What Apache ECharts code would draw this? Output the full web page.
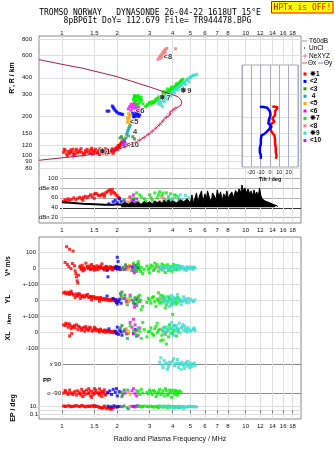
<!DOCTYPE html>
<html>
<head>
<meta charset="utf-8">
<script src="https://cdn.jsdelivr.net/npm/echarts@6/dist/echarts.min.js"></script>
<style>
html,body{margin:0;padding:0;background:#fff;}
#chart{width:335px;height:451px;}
</style>
</head>
<body>
<div id="chart"></div>
<script>
// ---------- axis ticks ----------
const FREQ_TICKS = [1, 1.5, 2, 3, 4, 5, 6, 7, 8, 10, 12, 14, 16, 18];          // MHz
const HEIGHT_TICKS = [80, 90, 100, 120, 150, 200, 300, 400, 600, 800];          // km
const DB_TICKS = [20, 40, 60, 80, 100];
const DB_TICK_LABELS = { 20: 'dBn 20', 40: '40', 60: '60', 80: 'dBe 80', 100: '100' };
const VSTAR_TICK_LABELS = { 0: '0', 100: '100' };
const YL_TICK_LABELS = { 0: '0', 100: '+-100' };
const XL_TICK_LABELS = { '-100': '-100', 0: '0', 100: '+-100' };
const TILT_HEIGHT_TICKS = [100, 120, 150, 200, 300, 400];

// ---------- echo classes ----------
const CLASS_NAMES = ['\u27351', '<2', '<3', ' 4', '<5', '<6', '\u27357', '<8', '\u27359', '<10'];
const CLASS_COLORS = ['#ff0000', '#0000ff', '#2f8f2f', '#12a8a8', '#ffa500', '#ff00ff', '#00ee00', '#f08080', '#3ddcd0', '#9b30e0'];

// virtual height of echoes [MHz, km], one list per class
const heightC1 = [[1.02,106],[1.04,110],[1.06,103],[1.08,108],[1.1,104],[1.12,111],[1.14,106],[1.16,102],[1.19,108],[1.22,105],[1.25,110],[1.28,106],[1.31,103],[1.34,109],[1.37,112],[1.4,106],[1.43,104],[1.46,110],[1.49,107],[1.52,112],[1.55,105],[1.58,109],[1.61,113],[1.64,107],[1.67,104],[1.7,110],[1.73,106],[1.76,111],[1.79,108],[1.82,105],[1.85,110],[1.88,113],[1.91,108],[1.94,112],[1.97,115],[2.0,111],[2.03,117],[2.06,120],[2.09,124],[2.12,128],[1.2,112],[1.45,114],[1.6,102],[1.75,103],
  [1.03,112],[1.07,100],[1.11,107],[1.15,112],[1.18,103],[1.24,107],[1.27,113],[1.33,104],[1.36,107],[1.42,110],[1.48,103],[1.51,108],[1.57,105],[1.63,110],[1.69,107],[1.72,113],[1.78,104],[1.84,107],[1.9,104],[1.93,109],[1.99,114],[2.02,120],[2.05,116],[2.08,121],[2.11,125]];
const heightC2 = [[1.76,221],[1.8,221],[1.88,242],[1.9,236],[1.92,230],[1.95,224],[1.98,218],[2.02,214],[2.06,211],[2.1,210],[2.14,208],[2.42,212],[2.45,200],[2.48,206],[2.52,214],[2.55,203],[2.58,209],[2.62,200],[2.65,207],[2.5,198],[2.6,216]];
const heightC3 = [[2.07,137],[2.11,140],[2.15,134],[2.19,131],[2.23,137],[2.43,140],[2.48,135]];
const heightC4 = [[2.25,146],[2.27,152],[2.29,157],[2.31,162],[2.33,167],[2.35,172],[2.3,142]];
const heightC5 = [[2.27,181],[2.29,188],[2.31,195],[2.33,202],[2.36,208],[2.3,212],[2.27,196],[2.38,186],[2.34,178]];
const heightC6 = [[2.3,230],[2.34,240],[2.38,250],[2.42,236],[2.46,246],[2.5,232],[2.54,240],[2.58,228],[2.62,236],[2.66,222],[2.38,224],[2.47,256],[2.55,250]];
const heightC7 = [[2.45,272],[2.5,286],[2.55,280],[2.6,292],[2.65,276],[2.7,284],[2.5,262],[2.58,266],[2.66,258],[2.72,268],[2.62,250],[2.55,246],[2.76,252],[2.48,292],[2.85,240],[2.92,248],[2.98,255],[3.05,250],[3.1,262],[3.15,258],[3.22,270],[3.3,266],[3.35,280],[3.42,276],[3.5,290],[3.58,296],[3.65,305],[3.72,300],[3.8,314],[3.88,322],[3.95,316],[4.02,330],[4.1,338],[4.18,348],[4.26,356],[4.34,366],[4.42,374],[4.5,384],[3.6,285],[3.7,292],[3.85,300],[4.0,312],[4.15,326],[4.3,340],[3.75,328],[3.95,340],[4.2,360],[3.55,312],
  [2.47,280],[2.53,270],[2.57,288],[2.63,282],[2.68,270],[2.9,244],[3.0,258],[3.12,254],[3.2,262],[3.28,276],[3.38,285],[3.46,282],[3.54,300],[3.62,294],[3.68,312],[3.78,306],[3.85,318],[3.92,330],[4.05,322],[4.12,345],[4.22,352],[4.38,360],[4.45,380],[4.55,390]];
const heightC8 = [[3.33,555],[3.38,572],[3.42,590],[3.47,605],[3.5,585],[3.53,622],[3.57,640],[3.62,655],[3.67,668],[3.72,676],[3.45,565],[3.58,610],[3.65,630],[4.15,672]];
const heightC9 = [[3.35,250],[3.42,258],[3.5,266],[3.58,274],[3.66,282],[3.75,290],[3.85,298],[3.95,306],[4.05,316],[4.15,325],[4.25,334],[4.35,343],[4.45,352],[4.55,362],[4.65,372],[4.75,382],[4.85,392],[4.95,400],[5.05,408],[5.15,414],[5.3,420],[5.42,426],[3.45,248],[3.6,262],[3.75,270],[3.9,288],[4.1,306],[4.3,322],[4.5,338],[4.7,356],[4.9,372],[3.52,240],
  [3.4,262],[3.55,268],[3.7,286],[3.8,294],[4.0,312],[4.2,330],[4.4,348],[4.6,366],[4.8,388],[5.0,402],[5.2,418],[3.65,275],[3.85,292]];
const heightC10 = [[2.14,122],[2.17,127],[2.2,119],[2.22,124],[2.25,121],[2.18,130]];

// class labels drawn beside the echo groups [text, MHz, km]
const classMarks = [['\u27351',1.71,106],['<5',2.47,182],['4',2.5,152],['<6',2.66,221],['\u27357',3.64,281],['<8',3.77,583],['\u27359',4.72,316],['<10',2.42,121]];

// model trace through the layer [MHz, km]
const modelTrace = [[0.75,553],[1.0,509],[1.3,474],[2.0,408],[3.0,340],[3.88,300],[4.28,286],[4.45,269],[4.49,255],[4.4,242],[4.13,232],[3.88,218],[3.88,206],[3.64,195],[3.42,175],[3.02,149],[2.66,132],[2.35,121],[1.95,110],[1.61,104.5],[1.3,100],[1.065,97],[0.75,92]];
// Ne profile points (NeXYZ) [MHz, km]
const neProfile = [[1.15,98],[1.3,100],[1.45,102],[1.6,104],[1.75,107],[1.9,109],[2.05,113],[2.2,117],[2.35,121],[2.5,126],[2.65,132],[2.8,138],[2.95,146],[3.1,154],[3.25,163],[3.4,174],[3.55,185],[3.7,198],[3.85,210],[4.0,222],[4.13,232]];

// echo amplitude [MHz, dB]
const dbC1 = [[1.02,53],[1.04,56],[1.06,54],[1.08,58],[1.1,55],[1.13,57],[1.16,60],[1.19,56],[1.22,59],[1.25,61],[1.28,58],[1.31,61],[1.34,63],[1.37,60],[1.4,63],[1.43,66],[1.46,62],[1.49,67],[1.52,69],[1.55,68],[1.58,65],[1.61,64],[1.64,66],[1.67,68],[1.7,66],[1.73,70],[1.76,72],[1.79,74],[1.82,76],[1.85,73],[1.88,77],[1.91,71],[1.94,69],[1.97,66],[2.0,64],[2.03,61],[2.06,59],[1.3,55],[1.5,59],[1.7,62],[1.85,68]];
const dbC2 = [[1.8,48],[1.9,52],[1.95,55],[2.0,50],[2.05,58],[2.1,53],[2.45,56],[2.55,50]];
const dbC3 = [[2.12,48],[2.18,55],[2.2,50]];
const dbC4 = [[2.27,45],[2.3,50]];
const dbC5 = [[2.3,52],[2.33,60]];
const dbC6 = [[2.35,62],[2.4,55],[2.45,66],[2.5,50],[2.55,58]];
const dbC7 = [[2.45,60],[2.55,70],[2.6,52],[2.7,62],[2.8,58],[2.9,48],[3.0,66],[3.1,55],[3.2,70],[3.3,60],[3.4,72],[3.5,65],[3.6,56],[3.7,70],[3.8,62],[3.9,68],[4.0,58],[4.2,64],[4.4,55],[3.25,50],[3.75,52],[2.65,66],[2.85,54],[3.05,60],[3.35,66],[3.55,70],[3.85,56],[4.1,66],[4.3,58]];
const dbC8 = [[3.4,52],[3.6,58],[3.5,62]];
const dbC9 = [[3.5,50],[3.7,55],[3.9,52],[4.1,60],[4.3,62],[4.5,57],[4.7,65],[4.9,60],[5.1,55],[5.3,48],[4.6,50],[4.2,46],[3.8,60],[4.0,56],[4.4,66],[4.8,54]];
const dbC10 = [[2.2,52]];
// background level [MHz, dB]
const noiseLow = [[1.0,51],[1.1,50],[1.2,49],[1.3,48],[1.4,47.5],[1.5,47],[1.6,46.5],[1.7,46],[1.8,46],[1.9,46],[2.0,47],[2.1,46]];
const noiseHigh = [[2.1,46],[2.2,50],[2.3,47],[2.4,52],[2.5,48],[2.6,51],[2.7,47],[2.8,53],[2.9,49],[3.0,52],[3.1,48],[3.2,54],[3.3,50],[3.4,53],[3.5,49],[3.6,55],[3.7,50],[3.8,56],[3.9,51],[4.0,54],[4.2,50],[4.4,56],[4.6,52],[4.8,58],[5.0,50],[5.1,66],[5.2,48],[5.3,60],[5.4,70],[5.5,50],[5.6,64],[5.75,74],[5.85,52],[6.0,68],[6.1,56],[6.2,74],[6.35,60],[6.5,52],[6.6,70],[6.75,64],[6.9,56],[7.0,76],[7.15,62],[7.3,72],[7.45,55],[7.6,68],[7.75,60],[7.9,74],[8.05,58],[8.2,66],[8.4,72],[8.6,60],[8.8,75],[9.0,68],[9.2,78],[9.4,70],[9.55,86],[9.7,74],[9.9,80],[10.1,70],[10.3,78],[10.5,68],[10.7,74],[10.9,64],[11.1,76],[11.3,66],[11.5,72],[11.7,62],[11.9,80],[12.1,64],[12.3,58],[12.5,62],[12.7,54],[12.9,58],[13.1,52],[13.3,56],[13.5,50],[13.7,54],[13.9,48],[14.1,52],[14.3,46],[14.5,48],[14.8,44],[15.0,42]];

// Doppler velocity V* [MHz, m/s]
const vC1 = [[1.06,133],[1.1,117],[1.15,106],[1.04,35],[1.07,22],[1.09,8],[1.12,-4],[1.14,28],[1.17,14],[1.19,-35],[1.2,-55],[1.21,-80],[1.22,-94],[1.23,-45],[1.18,-18],[1.25,6],[1.27,-8],[1.29,18],[1.31,2],[1.33,-6],[1.35,30],[1.37,10],[1.39,-3],[1.41,5],[1.43,-10],[1.45,22],[1.47,0],[1.49,-5],[1.51,8],[1.53,-2],[1.55,14],[1.57,-8],[1.59,3],[1.61,-4],[1.63,6],[1.65,26],[1.67,0],[1.69,-6],[1.71,4],[1.73,-2],[1.75,7],[1.77,-5],[1.79,2],[1.81,-3],[1.83,5],[1.85,-1],[1.87,-7],[1.89,3],[1.91,-2],[1.93,4],[1.96,-3],[1.99,1],[2.02,-4],[2.05,3],[1.3,-18],[1.5,-14],[1.7,-12],[1.88,-12],
  [1.26,12],[1.32,-12],[1.38,4],[1.44,-6],[1.48,10],[1.54,-9],[1.58,6],[1.62,12],[1.68,-3],[1.74,10],[1.78,-9],[1.84,8],[1.9,-6],[1.95,6],[2.0,-8],[1.28,-3],[1.42,14]];
const vC2 = [[1.95,0],[1.98,10],[2.0,-5],[2.02,40],[2.0,67],[2.05,5],[2.08,-10],[1.76,-15],[1.78,-55],[2.42,5],[2.5,-10],[2.55,15],[2.6,0],[2.47,-20]];
const vC3 = [[2.12,-5],[2.15,5],[2.18,-10],[2.22,20]];
const vC4 = [[2.26,-5],[2.3,8]];
const vC5 = [[2.28,-10],[2.3,0],[2.33,15]];
const vC6 = [[2.35,10],[2.4,-15],[2.45,20],[2.5,5],[2.55,-20],[2.6,25],[2.48,-30]];
const vC7 = [[2.45,30],[2.5,0],[2.55,-20],[2.6,15],[2.65,-10],[2.7,5],[2.75,-35],[2.6,40],[2.9,12],[3.0,0],[3.1,10],[3.2,-5],[3.3,20],[3.35,-20],[3.4,5],[3.5,-10],[3.6,15],[3.7,0],[3.8,-15],[3.9,10],[4.0,5],[4.1,-10],[4.2,15],[4.3,0],[4.4,-5],[3.2,30],[3.5,25],[3.0,-30],[2.8,-8],[3.65,-28],[4.05,22],
  [2.48,-15],[2.58,22],[2.68,-22],[2.95,-10],[3.05,18],[3.15,-15],[3.25,8],[3.45,-5],[3.55,5],[3.75,20],[3.85,-5],[3.95,-20],[4.15,0],[4.25,-10],[4.35,12]];
const vC8 = [[3.3,5],[3.5,-5],[3.7,10]];
const vC9 = [[3.4,0],[3.5,10],[3.6,-5],[3.7,5],[3.8,-10],[3.9,0],[4.0,8],[4.1,-5],[4.2,5],[4.3,-8],[4.4,3],[4.5,10],[4.6,-5],[4.7,0],[4.8,8],[4.9,-6],[5.0,2],[5.1,-4],[5.2,6],[3.55,-15],[4.25,15],[4.75,-15],[5.3,0],
  [3.45,5],[3.65,8],[3.85,4],[4.05,-6],[4.15,10],[4.35,-2],[4.55,4],[4.65,-10],[4.85,2],[5.05,6],[5.15,-8],[5.25,2]];
const vC10 = [[2.2,-8],[2.24,6]];

// echo location YL [MHz, km]
const ylC1 = [[1.02,45],[1.05,40],[1.08,48],[1.1,35],[1.12,55],[1.13,42],[1.16,30],[1.18,15],[1.2,38],[1.22,25],[1.25,32],[1.26,10],[1.28,22],[1.3,28],[1.33,18],[1.36,25],[1.38,35],[1.4,15],[1.43,22],[1.45,0],[1.46,12],[1.5,18],[1.53,8],[1.56,15],[1.6,5],[1.6,-8],[1.63,12],[1.66,3],[1.7,10],[1.73,0],[1.76,6],[1.8,-3],[1.83,4],[1.86,-2],[1.9,3],[1.93,-5],[1.96,2],[2.0,-4],
  [1.04,50],[1.07,38],[1.11,45],[1.15,36],[1.21,30],[1.24,40],[1.3,20],[1.35,30],[1.42,18],[1.48,22],[1.52,12],[1.58,10],[1.62,16],[1.68,6],[1.72,4],[1.78,2],[1.84,-4],[1.88,6],[1.95,-6],[1.98,0]];
const ylC2 = [[1.76,25],[1.9,10],[1.95,0],[1.98,-15],[2.0,-25],[2.03,-10],[2.06,5],[2.1,-20],[2.45,-10],[2.5,-25],[2.55,5]];
const ylC3 = [[2.08,40],[2.1,25],[2.12,50],[2.15,10],[2.2,30]];
const ylC4 = [[2.27,-30],[2.3,-5]];
const ylC5 = [[2.25,-20],[2.3,-10],[2.28,5]];
const ylC6 = [[2.35,30],[2.4,0],[2.45,-20],[2.5,10],[2.55,-35],[2.6,20],[2.65,-10],[2.48,-45]];
const ylC7 = [[2.35,20],[2.45,-10],[2.55,-30],[2.6,5],[2.7,-60],[2.75,-40],[2.65,30],[2.9,-15],[3.0,0],[3.1,15],[3.2,-10],[3.25,-40],[3.3,5],[3.4,-20],[3.45,30],[3.5,10],[3.55,25],[3.6,-5],[3.7,-30],[3.8,20],[3.9,0],[4.0,-15],[4.0,-90],[4.1,10],[4.2,-25],[4.3,5],[4.4,-5],[3.35,45],[3.65,-50],
  [2.5,15],[2.58,-15],[2.68,0],[2.95,10],[3.05,-20],[3.15,20],[3.35,-5],[3.48,-12],[3.62,12],[3.75,-8],[3.85,8],[3.95,-30],[4.15,-10],[4.25,15]];
const ylC8 = [[3.4,10],[3.6,-5]];
const ylC9 = [[3.5,10],[3.6,-10],[3.7,20],[3.8,0],[3.85,-40],[3.9,-20],[4.0,15],[4.1,-5],[4.2,10],[4.25,35],[4.3,-15],[4.4,5],[4.5,-10],[4.6,20],[4.7,-5],[4.8,0],[4.9,-15],[5.0,5],[5.2,-10],[5.3,0],[4.45,-30],[3.95,28],
  [3.55,-20],[3.65,5],[3.75,-15],[3.95,0],[4.05,-25],[4.15,12],[4.35,2],[4.55,-5],[4.65,8],[4.75,-18],[4.85,10],[5.1,-3]];
const ylC10 = [[2.2,10],[2.24,-8]];

// echo location XL [MHz, km]
const xlC1 = [[1.02,45],[1.05,55],[1.08,30],[1.1,50],[1.1,-25],[1.12,20],[1.13,-10],[1.15,35],[1.18,25],[1.2,45],[1.22,15],[1.25,30],[1.28,10],[1.3,25],[1.33,5],[1.35,35],[1.36,20],[1.4,10],[1.43,25],[1.46,5],[1.5,18],[1.5,30],[1.53,8],[1.56,15],[1.6,0],[1.63,12],[1.66,5],[1.7,10],[1.73,-2],[1.76,8],[1.8,0],[1.83,6],[1.86,-3],[1.9,4],[1.93,-5],[1.96,0],[2.0,-8],
  [1.04,40],[1.07,50],[1.11,38],[1.14,28],[1.17,40],[1.23,36],[1.27,20],[1.32,28],[1.38,15],[1.41,30],[1.48,12],[1.52,22],[1.58,8],[1.62,18],[1.68,2],[1.72,12],[1.78,4],[1.85,2],[1.92,0],[1.98,-4]];
const xlC2 = [[1.8,20],[1.95,5],[1.98,-10],[2.0,30],[2.03,-15],[2.06,10],[2.1,0],[2.12,-20],[2.45,-10],[2.5,15],[2.55,-25]];
const xlC3 = [[2.08,25],[2.12,40],[2.15,5],[2.2,15]];
const xlC4 = [[2.3,-10],[2.27,-40]];
const xlC5 = [[2.28,-10],[2.3,5],[2.25,20]];
const xlC6 = [[2.35,60],[2.4,30],[2.45,-10],[2.45,80],[2.5,45],[2.55,10],[2.6,-20],[2.65,25]];
const xlC7 = [[2.35,40],[2.45,10],[2.55,-20],[2.6,25],[2.7,-40],[2.75,60],[2.9,-30],[3.0,5],[3.1,-10],[3.2,20],[3.3,-5],[3.3,55],[3.4,15],[3.45,-55],[3.5,-20],[3.55,-50],[3.6,30],[3.7,0],[3.7,-75],[3.8,-30],[3.9,20],[4.0,-10],[4.1,40],[4.2,-25],[4.3,0],[3.25,35],[3.85,45],
  [2.5,-5],[2.65,5],[2.8,15],[2.95,0],[3.05,25],[3.15,-20],[3.35,10],[3.55,5],[3.65,-15],[3.75,15],[3.95,-5],[4.05,10],[4.25,20]];
const xlC8 = [[3.45,15],[3.65,-10]];
const xlC9 = [[3.5,20],[3.6,-5],[3.7,30],[3.8,10],[3.9,-10],[3.95,60],[4.0,25],[4.1,5],[4.2,40],[4.3,15],[4.35,55],[4.4,-5],[4.5,30],[4.6,10],[4.7,20],[4.8,0],[4.9,15],[5.0,5],[5.2,20],[5.3,10],[4.65,38],[4.05,-20],
  [3.55,10],[3.65,25],[3.75,5],[3.85,30],[4.05,40],[4.15,20],[4.25,8],[4.45,25],[4.55,45],[4.75,5],[4.85,28],[5.1,12],[5.25,25]];
const xlC10 = [[2.2,5],[2.24,-12]];

// polarization [MHz, deg]
const polC9 = [[3.4,100],[3.45,125],[3.5,85],[3.55,70],[3.6,110],[3.7,95],[3.75,60],[3.8,75],[3.9,90],[4.0,105],[4.05,120],[4.1,80],[4.2,95],[4.25,115],[4.3,70],[4.4,88],[4.5,100],[4.6,80],[4.65,65],[4.7,92],[4.8,78],[4.9,85],[4.95,70],[5.0,95],[5.1,75],[5.2,90],[5.3,82],[4.45,60],[4.85,105],
  [3.65,90],[3.85,100],[4.15,90],[4.35,95],[4.55,88],[4.75,100],[5.05,85],[5.25,95]];

// PP [MHz, deg]
const ppC1 = [[1.02,-90],[1.05,-80],[1.08,-100],[1.1,-70],[1.13,-95],[1.16,-85],[1.2,-105],[1.22,-75],[1.25,-95],[1.28,-65],[1.3,-85],[1.3,-115],[1.33,-100],[1.36,-70],[1.4,-90],[1.4,-60],[1.43,-110],[1.45,-120],[1.46,-80],[1.5,-95],[1.5,-60],[1.53,-70],[1.56,-88],[1.6,-105],[1.6,-62],[1.63,-78],[1.65,-115],[1.66,-92],[1.7,-68],[1.73,-98],[1.76,-85],
  [1.04,-72],[1.07,-92],[1.11,-88],[1.15,-100],[1.18,-78],[1.24,-88],[1.27,-105],[1.32,-80],[1.38,-95],[1.42,-76],[1.48,-100],[1.52,-85],[1.58,-95],[1.62,-90],[1.68,-80],[1.72,-105]];
const ppC2 = [[1.78,-90],[1.82,-75],[1.86,-100],[1.9,-65],[1.95,-85],[1.98,-60],[2.0,-110],[2.05,-80]];
const ppC3 = [[2.1,-85],[2.12,-115],[2.14,-100],[2.18,-70]];
const ppC4 = [[2.28,-70]];
const ppC5 = [[2.3,-85],[2.35,-100]];
const ppC6 = [[2.4,-75],[2.45,-60],[2.5,-95],[2.55,-110]];
const ppC7 = [[2.55,-75],[2.6,-80],[2.65,-100],[2.7,-65],[2.75,-90],[2.9,-85],[3.0,-70],[3.1,-100],[3.2,-80],[3.25,-115],[3.3,-95],[3.4,-65],[3.5,-90],[3.6,-110],[3.65,-60],[3.7,-75],[3.8,-95],[3.9,-85],[3.95,-120],[4.0,-70],[4.1,-100],[4.2,-80],[4.3,-90],[4.45,-85],
  [2.95,-95],[3.05,-80],[3.15,-72],[3.35,-82],[3.45,-100],[3.55,-75],[3.75,-105],[3.85,-70],[4.05,-88],[4.15,-72],[4.25,-105],[4.35,-75]];
const ppC10 = [[2.2,-90]];

// EP [MHz, deg]
const epC1 = [[1.02,15],[1.05,12],[1.08,18],[1.12,10],[1.16,14],[1.2,20],[1.25,11],[1.28,22],[1.3,16],[1.35,9],[1.4,13],[1.45,17],[1.5,10],[1.5,21],[1.55,14],[1.6,7],[1.65,4],[1.7,9],[1.7,15],[1.75,3],[1.8,6],[1.85,2],[1.9,5],[1.95,8],[2.0,11],
  [1.04,13],[1.1,16],[1.14,12],[1.18,15],[1.23,13],[1.33,12],[1.38,15],[1.42,11],[1.48,14],[1.53,12],[1.58,9],[1.63,6],[1.68,5],[1.78,4],[1.83,3],[1.88,4]];
const epC2 = [[1.78,14],[1.85,10],[1.92,18],[2.0,8],[2.05,12],[2.45,12],[2.55,15]];
const epC3 = [[2.12,10],[2.18,15]];
const epC4 = [[2.27,5],[2.3,3]];
const epC5 = [[2.33,11]];
const epC6 = [[2.4,13],[2.5,9],[2.6,16]];
const epC7 = [[2.6,12],[2.7,9],[2.8,15],[2.95,10],[3.05,14],[3.15,8],[3.25,12],[3.35,6],[3.4,16],[3.45,11],[3.55,7],[3.65,13],[3.75,5],[3.8,15],[3.85,10],[3.95,8],[4.05,12],[4.2,9],[4.35,6],
  [2.65,14],[2.75,11],[2.9,13],[3.1,11],[3.3,10],[3.5,12],[3.7,9],[3.9,11],[4.1,8],[4.3,10]];
const epC9 = [[3.45,10],[3.6,14],[3.75,8],[3.9,12],[4.05,6],[4.1,4],[4.2,10],[4.35,13],[4.5,7],[4.6,3],[4.65,11],[4.8,9],[4.95,14],[5.1,10],[5.3,12],[5.4,8],
  [3.5,12],[3.7,11],[3.85,9],[4.0,11],[4.25,8],[4.45,10],[4.55,12],[4.75,8],[4.9,10],[5.05,12],[5.2,9]];

// tilt profiles [deg, km]
const tiltX = [[2.5,239],[5,240],[8.4,236],[8.4,230],[5.4,222],[5.4,206],[2.5,194],[4.7,184],[4.7,178],[0,173],[0,165],[1.8,153],[4.7,144],[5.4,134],[5.4,124],[6.2,115],[6.2,107],[7,100],[6.2,95]];
const tiltY = [[-10.9,239],[-7,238],[-3,235],[-1.8,228],[0,220],[0.5,206],[-1,192],[-1.8,178],[1.8,168],[1.8,163],[-3.6,153],[-6,148],[-9,144],[-9.8,135],[-9.8,124],[-10.9,115],[-10.9,107],[-9.8,101],[-11,98],[-9.8,95]];

// ---------- chart construction ----------
const lg = Math.log10;
const FONT = 'Liberation Sans, Arial, sans-serif';
const LOG_F_MIN = lg(0.75), LOG_F_MAX = lg(20);
const GRID_LINE = '#dedede';

const heightSets = [heightC1, heightC2, heightC3, heightC4, heightC5, heightC6, heightC7, heightC8, heightC9, heightC10];
const dbSets = [dbC1, dbC2, dbC3, dbC4, dbC5, dbC6, dbC7, dbC8, dbC9, dbC10];
const vSets = [vC1, vC2, vC3, vC4, vC5, vC6, vC7, vC8, vC9, vC10];
const ylSets = [ylC1, ylC2, ylC3, ylC4, ylC5, ylC6, ylC7, ylC8, ylC9, ylC10];
const xlSets = [xlC1, xlC2, xlC3, xlC4, xlC5, xlC6, xlC7, xlC8, xlC9, xlC10];
const polSets = [[], [], [], [], [], [], [], [], polC9, []];
const ppSets = [ppC1, ppC2, ppC3, ppC4, ppC5, ppC6, ppC7, [], [], ppC10];
const epSets = [epC1, epC2, epC3, epC4, epC5, epC6, epC7, [], epC9, []];

function freqAxis(gridIndex, min, opt) {
  opt = opt || {};
  const vals = FREQ_TICKS.map(lg);
  return {
    type: 'value', gridIndex, min, max: LOG_F_MAX,
    position: opt.labels === 'top' ? 'top' : 'bottom',
    axisLine: { show: false },
    axisTick: { show: !!opt.ticks, customValues: vals, length: 3, lineStyle: { color: '#777' } },
    axisLabel: {
      show: !!opt.labels, customValues: vals, margin: opt.labels === 'top' ? 0 : 4,
      fontSize: 6, color: '#111', fontFamily: FONT,
      formatter: v => String(+Math.pow(10, v).toFixed(1))
    },
    splitLine: { show: true, lineStyle: { color: GRID_LINE, width: 1 } }
  };
}

function linearAxis(gridIndex, min, max, ticks, labels, opt) {
  opt = opt || {};
  return {
    type: 'value', gridIndex, min, max,
    axisLine: { show: false },
    axisTick: { show: false, customValues: ticks },
    axisLabel: {
      customValues: ticks, margin: opt.margin == null ? 2 : opt.margin,
      fontSize: 6, color: '#111', fontFamily: FONT,
      formatter: v => labels[Math.round(v)] || ''
    },
    splitLine: { show: true, lineStyle: { color: opt.lineColor || GRID_LINE, width: 1 } }
  };
}

const grids = [
  { left: 39, right: 34, top: 36, height: 135 },   // 0 virtual height
  { left: 60, right: 34, top: 171, height: 52 },   // 1 amplitude
  { left: 39, right: 34, top: 237, height: 47 },   // 2 V*
  { left: 39, right: 34, top: 284, height: 32 },   // 3 YL
  { left: 39, right: 34, top: 316, height: 32 },   // 4 XL
  { left: 62, right: 34, top: 348, height: 32 },   // 5 polarization
  { left: 62, right: 34, top: 380, height: 20 },   // 6 PP
  { left: 39, right: 34, top: 400, height: 19 },   // 7 EP
  { left: 242, width: 56, top: 65, height: 102, z: 4, show: true, backgroundColor: '#fff', borderColor: '#aaa', borderWidth: 1 }, // 8 tilt
  { left: 39, right: 34, top: 36, height: 187, show: true, borderColor: '#8a8a8a', borderWidth: 1 },  // 9 upper frame
  { left: 39, right: 34, top: 237, height: 182, show: true, borderColor: '#8a8a8a', borderWidth: 1 }  // 10 lower frame
];

const xAxes = [
  freqAxis(0, LOG_F_MIN, { labels: 'top' }),
  freqAxis(1, lg(0.976), { labels: 'bottom' }),
  freqAxis(2, LOG_F_MIN), freqAxis(3, LOG_F_MIN), freqAxis(4, LOG_F_MIN),
  freqAxis(5, 0), freqAxis(6, 0),
  Object.assign(freqAxis(7, LOG_F_MIN, { labels: 'bottom', ticks: true }), {
    name: 'Radio and Plasma Frequency / MHz', nameLocation: 'middle', nameGap: 17,
    nameTextStyle: { fontSize: 7, color: '#111', fontFamily: FONT }
  }),
  {
    type: 'value', gridIndex: 8, min: -30, max: 30, interval: 10, z: 5,
    axisLine: { show: false }, axisTick: { show: false },
    axisLabel: { fontSize: 5.5, margin: 2, color: '#111', fontFamily: FONT, formatter: v => Math.abs(v) >= 30 ? '' : String(v) },
    splitLine: { show: true, lineStyle: { color: '#a9a9c8' } },
    name: 'Tilt / deg', nameLocation: 'middle', nameGap: 9,
    nameTextStyle: { fontSize: 5.5, fontWeight: 'bold', color: '#111', fontFamily: FONT }
  },
  { type: 'value', gridIndex: 9, show: false },
  { type: 'value', gridIndex: 10, show: false }
];

const heightTickVals = HEIGHT_TICKS.map(lg);
const yAxes = [
  {
    type: 'value', gridIndex: 0, min: lg(76), max: lg(843),
    axisLine: { show: false }, axisTick: { show: false, customValues: heightTickVals },
    axisLabel: { customValues: heightTickVals, margin: 7, fontSize: 6, color: '#111', fontFamily: FONT, formatter: v => String(Math.round(Math.pow(10, v))) },
    splitLine: { show: true, lineStyle: { color: GRID_LINE } }
  },
  Object.assign(linearAxis(1, 9.3, 114.1, DB_TICKS, DB_TICK_LABELS), {
    splitLine: { show: true, lineStyle: { color: ['#b4b4e6', '#333333', '#b0b0b0', '#b0b0b0', '#b0b0b0'], width: 1 } }
  }),
  linearAxis(2, -100, 193.75, [0, 100], VSTAR_TICK_LABELS, { margin: 3 }),
  linearAxis(3, -100, 100, [0, 100], YL_TICK_LABELS, { margin: 1 }),
  linearAxis(4, -100, 100, [-100, 0, 100], XL_TICK_LABELS, { margin: 1 }),
  linearAxis(5, 0, 180, [90], { 90: 'x 90' }, { margin: 1, lineColor: '#8a8a8a' }),
  linearAxis(6, -138.5, 0, [-90], { '-90': 'o -90' }, { margin: 1, lineColor: '#8a8a8a' }),
  linearAxis(7, -2.37, 2.84, [-1, 0, 1], { '-1': '0.1', 1: '10.' }, { margin: 1 }),
  {
    type: 'value', gridIndex: 8, min: lg(82), max: lg(503), z: 5,
    axisLine: { show: false }, axisLabel: { show: false },
    axisTick: { show: false, customValues: TILT_HEIGHT_TICKS.map(lg) },
    splitLine: { show: true, lineStyle: { color: '#e2e2e2' } }
  },
  { type: 'value', gridIndex: 9, show: false },
  { type: 'value', gridIndex: 10, show: false }
];

function dots(gridIndex, data, color, mapY) {
  return {
    type: 'scatter', xAxisIndex: gridIndex, yAxisIndex: gridIndex,
    data: data.map(([f, v]) => [lg(f), mapY ? mapY(v) : v]),
    symbol: 'rect', symbolSize: 3, itemStyle: { color },
    silent: true, animation: false
  };
}

const series = [];
// amplitude background
series.push({
  type: 'line', xAxisIndex: 1, yAxisIndex: 1, data: noiseLow.map(([f, d]) => [lg(f), d]),
  symbol: 'none', lineStyle: { color: '#000', width: 2 }, silent: true, animation: false
});
series.push({
  type: 'line', xAxisIndex: 1, yAxisIndex: 1, data: noiseHigh.map(([f, d]) => [lg(f), d]),
  symbol: 'none', lineStyle: { color: '#000', width: 1 }, areaStyle: { color: '#000', opacity: 1, origin: 41 },
  silent: true, animation: false
});
// model trace and Ne profile
series.push({
  type: 'line', xAxisIndex: 0, yAxisIndex: 0, data: modelTrace.map(([f, h]) => [lg(f), lg(h)]),
  symbol: 'none', lineStyle: { color: '#a4214c', width: 1 }, silent: true, animation: false
});
series.push({
  type: 'scatter', xAxisIndex: 0, yAxisIndex: 0, data: neProfile.map(([f, h]) => [lg(f), lg(h)]),
  symbol: 'path://M3,0H5V8H3ZM0,3H8V5H0Z', symbolSize: 5, itemStyle: { color: '#e880a0' },
  silent: true, animation: false
});
// echo classes in every panel
for (let c = 0; c < 10; c++) {
  const col = CLASS_COLORS[c];
  series.push(dots(0, heightSets[c], col, lg));
  series.push(dots(1, dbSets[c], col));
  series.push(dots(2, vSets[c], col));
  series.push(dots(3, ylSets[c], col));
  series.push(dots(4, xlSets[c], col));
  if (polSets[c].length) series.push(dots(5, polSets[c], col));
  if (ppSets[c].length) series.push(dots(6, ppSets[c], col));
  if (epSets[c].length) series.push(dots(7, epSets[c], col, lg));
}
// class labels
series.push({
  type: 'scatter', xAxisIndex: 0, yAxisIndex: 0, z: 5,
  data: classMarks.map(([t, f, h]) => ({ name: t, value: [lg(f), lg(h)] })),
  symbol: 'circle', symbolSize: 1, itemStyle: { color: 'rgba(0,0,0,0)' },
  label: {
    show: true, position: 'inside', formatter: p => p.name,
    fontSize: 7.5, fontWeight: 'bold', color: '#000', fontFamily: FONT,
    textBorderColor: '#fff', textBorderWidth: 1.5
  },
  silent: true, animation: false
});
// tilt profiles
[[tiltX, '#ff0000'], [tiltY, '#0000ff']].forEach(([d, col]) => {
  series.push({
    type: 'line', xAxisIndex: 8, yAxisIndex: 8, z: 6,
    data: d.map(([t, h]) => [t, lg(h)]),
    symbol: 'none', lineStyle: { color: col, width: 2.5 }, silent: true, animation: false
  });
});

// ---------- titles, labels, key ----------
const g = [];
function txt(x, y, text, font, extra) {
  g.push(Object.assign({
    type: 'text', x, y, silent: true,
    style: { text, font, fill: '#000', align: 'left', verticalAlign: 'middle' }
  }, extra || {}));
}
txt(150, 12.5, 'TROMSO NORWAY   DYNASONDE 26-04-22 1618UT 15\u00b0E', '8px DejaVu Sans Mono');
g[g.length - 1].style.align = 'center';
txt(157.5, 20.5, '8pBP6It DoY= 112.679 File= TR944478.BPG', '8px DejaVu Sans Mono');
g[g.length - 1].style.align = 'center';

g.push({ type: 'rect', silent: true, shape: { x: 271.5, y: 1.5, width: 61.5, height: 11.5 }, style: { fill: '#ffff00', stroke: '#ff0000', lineWidth: 1 } });
g.push({ type: 'text', silent: true, x: 302.3, y: 7.5, style: { text: 'HPTx is OFF!', font: '8px DejaVu Sans Mono', fill: '#ff0000', align: 'center', verticalAlign: 'middle' } });

function vtxt(x, y, text, size) {
  g.push({ type: 'text', silent: true, x, y, rotation: Math.PI / 2,
    style: { text, font: 'bold ' + (size || 7) + 'px ' + FONT, fill: '#000', align: 'center', verticalAlign: 'middle' } });
}
vtxt(12, 78, "R', R / km");
vtxt(8, 266, 'V* m/s', 6.5);
vtxt(8, 299, 'YL');
vtxt(9, 319, '/km', 6);
vtxt(8, 336, 'XL');
vtxt(13, 408, 'EP / deg');
txt(43, 380, 'PP', 'bold 6px ' + FONT);

// key
const keyFont = '6.5px ' + FONT;
g.push({ type: 'line', silent: true, shape: { x1: 302, y1: 41, x2: 307, y2: 41 }, style: { stroke: '#999', lineWidth: 1 } });
txt(309, 41, 'T60dB', keyFont);
g.push({ type: 'rect', silent: true, shape: { x: 304, y: 47.5, width: 1, height: 1 }, style: { fill: '#000' } });
txt(309, 48, 'UnCl', keyFont);
g.push({ type: 'line', silent: true, shape: { x1: 302.5, y1: 56, x2: 307.5, y2: 56 }, style: { stroke: '#e880a0', lineWidth: 1 } });
g.push({ type: 'line', silent: true, shape: { x1: 305, y1: 53.5, x2: 305, y2: 58.5 }, style: { stroke: '#e880a0', lineWidth: 1 } });
txt(309, 56, 'NeXYZ', keyFont);
g.push({ type: 'line', silent: true, shape: { x1: 302, y1: 63, x2: 307, y2: 63 }, style: { stroke: '#e06060', lineWidth: 1 } });
txt(308, 63, '\u0398x', keyFont);
g.push({ type: 'line', silent: true, shape: { x1: 318, y1: 63, x2: 323, y2: 63 }, style: { stroke: '#8080e0', lineWidth: 1 } });
txt(324, 63, '\u0398y', keyFont);
CLASS_NAMES.forEach((name, i) => {
  const y = 74 + i * 7.4;
  g.push({ type: 'rect', silent: true, shape: { x: 303.5, y: y - 1.5, width: 3, height: 3 }, style: { fill: CLASS_COLORS[i] } });
  txt(310, y, name, 'bold ' + keyFont);
});

const chart = echarts.init(document.getElementById('chart'), null, { renderer: 'canvas' });
chart.setOption({
  animation: false,
  backgroundColor: '#fff',
  grid: grids,
  xAxis: xAxes,
  yAxis: yAxes,
  series,
  graphic: g
});
</script>
</body>
</html>
